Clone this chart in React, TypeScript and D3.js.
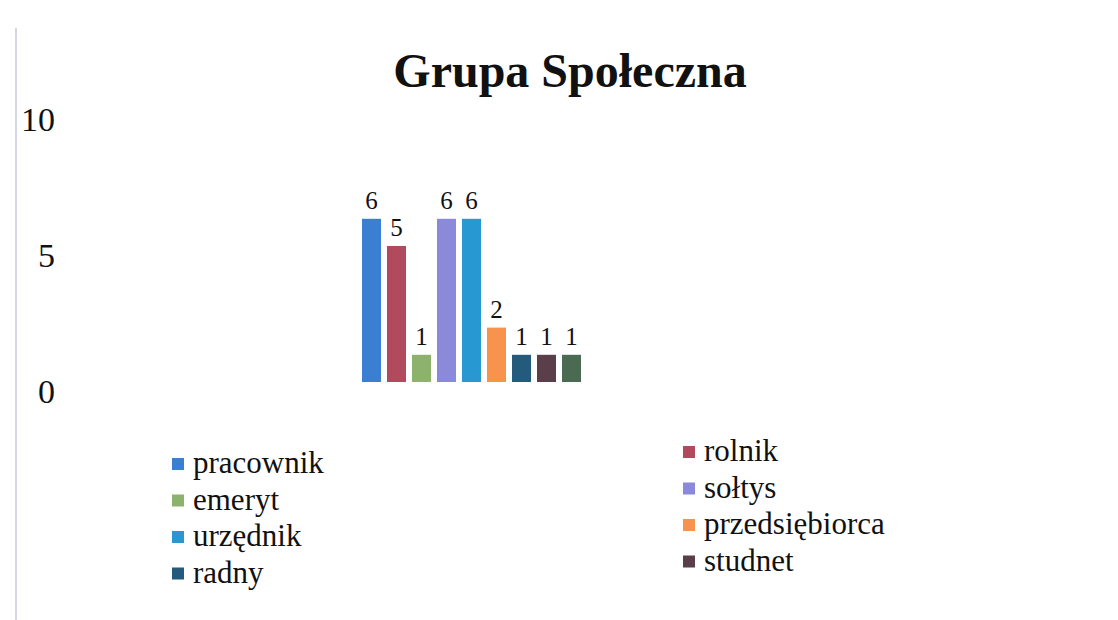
import React, { useEffect, useRef } from 'react';
import * as d3 from 'd3';

// dane
const categories = ['pracownik', 'rolnik', 'emeryt', 'sołtys', 'urzędnik', 'przedsiębiorca', 'radny', 'studnet', ''];
const values = [6, 5, 1, 6, 6, 2, 1, 1, 1];
const colors = ['#3b7fd2', '#b04a5c', '#8db26e', '#8b89d9', '#2898d2', '#f7934c', '#245a7c', '#5a3f4a', '#4a6b52'];
const yTicks = [0, 5, 10];
const title = 'Grupa Społeczna';

const App = () => {
  const svgRef = useRef<SVGSVGElement>(null);

  useEffect(() => {
    const width = 1118;
    const height = 620;
    const font = 'Liberation Serif, Times New Roman, serif';

    const svg = d3.select(svgRef.current)
      .attr('width', width)
      .attr('height', height);
    svg.selectAll('*').remove();

    svg.append('rect').attr('width', width).attr('height', height).attr('fill', '#ffffff');

    // lewa krawędź ramki (skan)
    svg.append('line')
      .attr('x1', 16).attr('x2', 16).attr('y1', 28).attr('y2', height)
      .attr('stroke', '#d4d6e4').attr('stroke-width', 2);

    // tytuł
    svg.append('text')
      .attr('x', 570).attr('y', 87)
      .attr('text-anchor', 'middle')
      .attr('font-family', font)
      .attr('font-size', 48).attr('font-weight', 'bold')
      .attr('fill', '#111')
      .text(title);

    const keys = categories.map((c, i) => c + i);

    const x = d3.scaleBand<string>()
      .domain(keys)
      .range([362, 581])
      .paddingInner(0.24)
      .paddingOuter(0);

    const y = d3.scaleLinear().domain([0, 10]).range([382, 110]);

    // oś Y - tylko etykiety
    svg.append('g').selectAll('text')
      .data(yTicks)
      .join('text')
      .attr('x', 55)
      .attr('y', d => y(d) + 21)
      .attr('text-anchor', 'end')
      .attr('font-family', font)
      .attr('font-size', 34)
      .attr('fill', '#111')
      .text(d => d);

    // słupki
    svg.append('g').selectAll('rect')
      .data(values)
      .join('rect')
      .attr('x', (d, i) => x(keys[i])!)
      .attr('y', d => y(d))
      .attr('width', x.bandwidth())
      .attr('height', d => y(0) - y(d))
      .attr('fill', (d, i) => colors[i]);

    // etykiety wartości
    svg.append('g').selectAll('text')
      .data(values)
      .join('text')
      .attr('x', (d, i) => x(keys[i])! + x.bandwidth() / 2)
      .attr('y', d => y(d) - 10)
      .attr('text-anchor', 'middle')
      .attr('font-family', font)
      .attr('font-size', 25)
      .attr('fill', '#111')
      .text(d => d);

    // legenda (dwie kolumny, kolejność wierszami)
    const legendItems = categories.slice(0, 8).map((c, i) => ({ name: c, color: colors[i], i }));
    const colX = [172, 683];
    const colY = [464, 452];
    const rowStep = 36.5;

    const lg = svg.append('g').selectAll('g')
      .data(legendItems)
      .join('g')
      .attr('transform', d => {
        const col = d.i % 2;
        const row = Math.floor(d.i / 2);
        return `translate(${colX[col]}, ${colY[col] + row * rowStep})`;
      });

    lg.append('rect')
      .attr('x', 0).attr('y', -6)
      .attr('width', 12).attr('height', 12)
      .attr('fill', d => d.color);

    lg.append('text')
      .attr('x', 21).attr('y', 9)
      .attr('font-family', font)
      .attr('font-size', 31)
      .attr('fill', '#111')
      .text(d => d.name);
  }, []);

  return (
    <svg ref={svgRef} style={{ position: 'absolute', left: 0, top: 0, display: 'block' }}></svg>
  );
};

export default App;
